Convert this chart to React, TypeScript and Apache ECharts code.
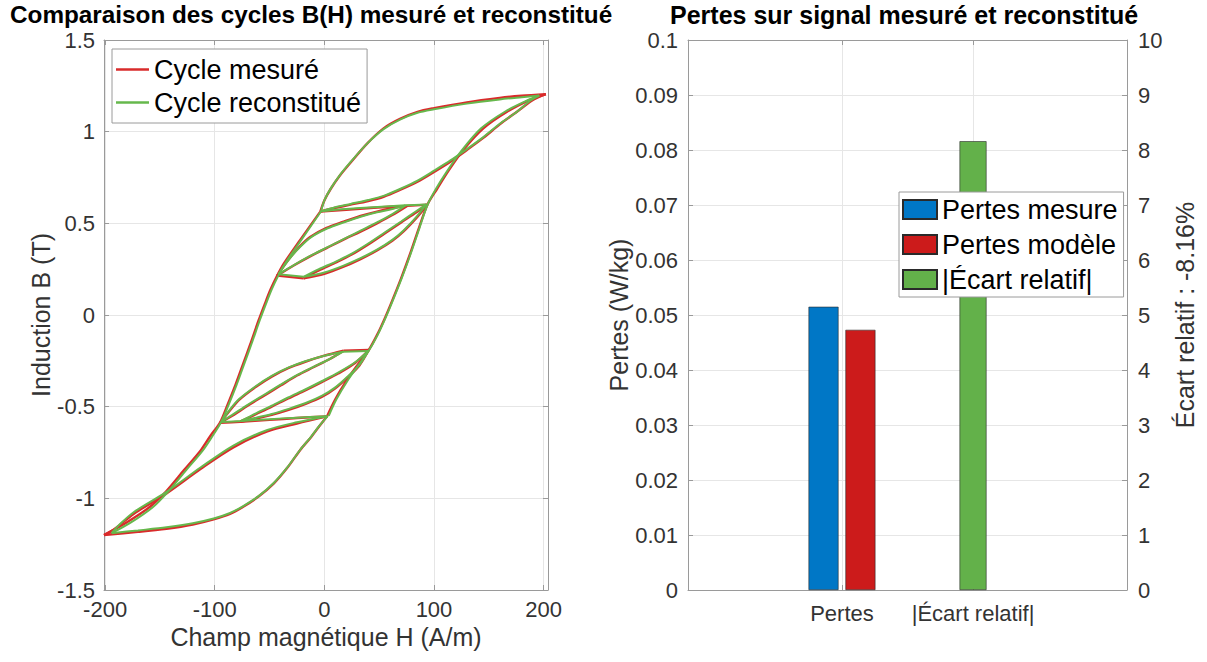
import React, { useEffect, useRef } from 'react';
import * as echarts from 'echarts';

const FONT = "'Liberation Sans', Arial, Helvetica, sans-serif";

type P = [number, number];

// ---------- Left chart: B(H) cycles, [H (A/m), B (T)] ----------
// Measured cycle (red)
const mesUpperBranch: P[] = [[202, 1.205], [180, 1.196], [160, 1.184], [130, 1.16], [100, 1.128], [85, 1.108], [69, 1.07], [54, 1.018], [39, 0.935], [24, 0.832], [14, 0.76], [6, 0.69], [0, 0.625], [-3.7, 0.564]];
const mesUpperReturn: P[] = [[-3.7, 0.564], [10, 0.585], [24, 0.602], [40, 0.622], [54, 0.645], [70, 0.685], [85, 0.727], [100, 0.78], [115, 0.836], [130, 0.9], [145, 0.966], [160, 1.04], [176, 1.11], [191, 1.175], [202, 1.205]];
const mesRisingBranch: P[] = [[2.4, -0.553], [10, -0.46], [20, -0.36], [30, -0.275], [40.5, -0.191], [48, -0.11], [55, -0.02], [62, 0.08], [70, 0.2], [78, 0.33], [86, 0.47], [94, 0.602], [103, 0.69], [113, 0.785], [126, 0.895], [145, 1.018], [167, 1.11], [188, 1.175], [202, 1.205]];
const mesFallingBranch: P[] = [[-3.7, 0.564], [-22, 0.41], [-37, 0.28], [-43, 0.215], [-49, 0.14], [-54, 0.065], [-60, -0.03], [-67, -0.15], [-74, -0.265], [-81, -0.38], [-89, -0.5], [-95, -0.585], [-104, -0.66], [-113, -0.74], [-128, -0.846], [-144, -0.96], [-159, -1.046], [-180, -1.13], [-201, -1.2]];
const mesLowerBranch: P[] = [[-201, -1.2], [-170, -1.183], [-144, -1.166], [-120, -1.143], [-101, -1.115], [-86, -1.085], [-74, -1.046], [-60, -0.99], [-46, -0.918], [-34, -0.835], [-22, -0.736], [-12, -0.665], [-5, -0.61], [2.4, -0.553]];
const mesLowerReturn: P[] = [[2.4, -0.553], [-25, -0.592], [-52, -0.635], [-83, -0.722], [-113, -0.84], [-144, -0.973], [-174, -1.085], [-192, -1.17], [-201, -1.2]];
const mesUpperChord: P[] = [[-3.7, 0.564], [20, 0.574], [45, 0.585], [75.5, 0.595], [94, 0.602]];
const mesLowerChord: P[] = [[-95, -0.588], [-76.7, -0.582], [-50, -0.572], [-25, -0.562], [2.4, -0.553]];
const mesLoopUpperLink: P[] = [[-43, 0.215], [-19, 0.2]];
const mesLoopUpperA: P[] = [[-43, 0.215], [-33, 0.3], [-23, 0.37], [-13, 0.425], [2, 0.475], [17.6, 0.509], [33, 0.54], [48, 0.564], [62, 0.582], [75.5, 0.595]];
const mesLoopUpperC: P[] = [[-43, 0.215], [-28, 0.27], [-13, 0.32], [2, 0.365], [17, 0.41], [33, 0.455], [48, 0.5], [62, 0.545], [75.5, 0.595]];
const mesLoopUpperD: P[] = [[-19, 0.2], [-5, 0.243], [10, 0.285], [25, 0.33], [40, 0.385], [55, 0.445], [70, 0.505], [84, 0.56], [94, 0.602]];
const mesLoopUpperB: P[] = [[-19, 0.2], [0, 0.225], [17, 0.262], [33, 0.305], [48, 0.352], [62, 0.405], [72, 0.455], [84, 0.53], [94, 0.602]];
const mesLoopLowerLink: P[] = [[17.6, -0.195], [40.5, -0.191]];
const mesLoopLowerA: P[] = [[-76.7, -0.582], [-62, -0.565], [-48, -0.545], [-32.6, -0.518], [-17, -0.485], [-2, -0.446], [10, -0.4], [22, -0.336], [32, -0.275], [40.5, -0.191]];
const mesLoopLowerC: P[] = [[-76.7, -0.582], [-62, -0.54], [-48, -0.5], [-33, -0.455], [-17, -0.41], [-2, -0.365], [13, -0.318], [28, -0.262], [40.5, -0.191]];
const mesLoopLowerD: P[] = [[-95, -0.588], [-84, -0.55], [-70, -0.495], [-55, -0.44], [-40, -0.385], [-25, -0.33], [-10, -0.285], [5, -0.24], [17.6, -0.195]];
const mesLoopLowerB: P[] = [[-95, -0.588], [-86, -0.52], [-78, -0.464], [-62, -0.39], [-48, -0.336], [-33, -0.29], [-17.4, -0.255], [0, -0.222], [17.6, -0.195]];

// Reconstructed cycle (green)
const recUpperBranch: P[] = [[196, 1.197], [180, 1.188], [160, 1.176], [130, 1.153], [100, 1.122], [85, 1.103], [69, 1.066], [54, 1.014], [39, 0.935], [24, 0.835], [14, 0.762], [6, 0.692], [0, 0.625], [-3, 0.566]];
const recUpperReturn: P[] = [[-3, 0.566], [10, 0.588], [24, 0.606], [40, 0.627], [54, 0.65], [70, 0.69], [85, 0.733], [100, 0.787], [115, 0.843], [130, 0.905], [145, 0.97], [160, 1.043], [176, 1.11], [188, 1.17], [196, 1.197]];
const recRisingBranch: P[] = [[4, -0.55], [11, -0.46], [21, -0.36], [31, -0.275], [41, -0.19], [48.5, -0.11], [55.5, -0.02], [62.5, 0.08], [70.5, 0.2], [78.5, 0.33], [86.5, 0.47], [94, 0.6], [102, 0.69], [112, 0.785], [125, 0.895], [143, 1.018], [165, 1.11], [185, 1.17], [196, 1.197]];
const recFallingBranch: P[] = [[-3, 0.566], [-21, 0.41], [-36, 0.28], [-42, 0.215], [-48, 0.14], [-53, 0.065], [-59, -0.03], [-66, -0.15], [-73, -0.265], [-80, -0.38], [-88, -0.5], [-94, -0.582], [-102, -0.66], [-111, -0.74], [-126, -0.846], [-142, -0.96], [-156, -1.046], [-176, -1.13], [-194, -1.19]];
const recLowerBranch: P[] = [[-194, -1.19], [-170, -1.175], [-144, -1.158], [-120, -1.136], [-101, -1.11], [-86, -1.08], [-74, -1.042], [-60, -0.988], [-46, -0.915], [-34, -0.833], [-22, -0.735], [-12, -0.663], [-5, -0.608], [3, -0.552]];
const recLowerReturn: P[] = [[3, -0.552], [-25, -0.585], [-52, -0.627], [-83, -0.712], [-113, -0.832], [-144, -0.965], [-174, -1.076], [-188, -1.15], [-194, -1.19]];
const recUpperChord: P[] = [[-3, 0.566], [20, 0.578], [45, 0.588], [74, 0.598], [93, 0.603]];
const recLowerChord: P[] = [[-94, -0.583], [-76, -0.578], [-50, -0.568], [-25, -0.56], [3, -0.552]];
const recLoopUpperLink: P[] = [[-42, 0.222], [-19, 0.208]];
const recLoopUpperA: P[] = [[-42, 0.222], [-32, 0.305], [-22, 0.372], [-12, 0.425], [3, 0.473], [18, 0.506], [33, 0.536], [48, 0.56], [62, 0.578], [74, 0.598]];
const recLoopUpperC: P[] = [[-42, 0.222], [-27, 0.275], [-12, 0.325], [3, 0.37], [18, 0.415], [33, 0.46], [48, 0.505], [62, 0.55], [74, 0.598]];
const recLoopUpperD: P[] = [[-19, 0.208], [-5, 0.25], [10, 0.29], [25, 0.335], [40, 0.39], [55, 0.45], [70, 0.51], [83, 0.563], [93, 0.603]];
const recLoopUpperB: P[] = [[-19, 0.208], [0, 0.232], [17, 0.268], [33, 0.31], [48, 0.356], [62, 0.41], [72, 0.46], [84, 0.535], [93, 0.603]];
const recLoopLowerLink: P[] = [[17, -0.2], [40, -0.196]];
const recLoopLowerA: P[] = [[-76, -0.578], [-62, -0.56], [-48, -0.54], [-32.6, -0.512], [-17, -0.48], [-2, -0.44], [10, -0.395], [22, -0.332], [32, -0.272], [40, -0.196]];
const recLoopLowerC: P[] = [[-76, -0.578], [-62, -0.535], [-48, -0.495], [-33, -0.45], [-17, -0.405], [-2, -0.36], [13, -0.313], [28, -0.258], [40, -0.196]];
const recLoopLowerD: P[] = [[-94, -0.583], [-84, -0.545], [-70, -0.49], [-55, -0.435], [-40, -0.38], [-25, -0.328], [-10, -0.283], [5, -0.24], [17, -0.2]];
const recLoopLowerB: P[] = [[-94, -0.583], [-86, -0.515], [-78, -0.46], [-62, -0.386], [-48, -0.332], [-33, -0.287], [-17.4, -0.252], [0, -0.222], [17, -0.2]];

const measuredSegments: P[][] = [mesUpperBranch, mesUpperReturn, mesRisingBranch, mesFallingBranch, mesLowerBranch, mesLowerReturn, mesUpperChord, mesLowerChord, mesLoopUpperLink, mesLoopUpperA, mesLoopUpperC, mesLoopUpperD, mesLoopUpperB, mesLoopLowerLink, mesLoopLowerA, mesLoopLowerC, mesLoopLowerD, mesLoopLowerB];
const rebuiltSegments: P[][] = [recUpperBranch, recUpperReturn, recRisingBranch, recFallingBranch, recLowerBranch, recLowerReturn, recUpperChord, recLowerChord, recLoopUpperLink, recLoopUpperA, recLoopUpperC, recLoopUpperD, recLoopUpperB, recLoopLowerLink, recLoopLowerA, recLoopLowerC, recLoopLowerD, recLoopLowerB];

const hTicks = [-200, -100, 0, 100, 200];

// ---------- Right chart: losses ----------
const barCategories = ['Pertes', '|Écart relatif|'];
const barPositions = [1, 2];
const pertesMesure = 0.0515;
const pertesModele = 0.0473;
const ecartRelatifAbs = 8.16;
const ecartRelatifSigned = -8.16;

const AXIS_COLOR = '#9a9a9a';
const LABEL_COLOR = '#333333';

export default function App() {
  const ref = useRef<HTMLDivElement>(null);

  useEffect(() => {
    const chart = echarts.init(ref.current!, null, { renderer: 'svg' });

    const axisLine = { show: true, onZero: false, lineStyle: { color: AXIS_COLOR, width: 1 } };
    const tick = (custom?: number[]) => ({
      show: true, inside: true, length: 5, lineStyle: { color: AXIS_COLOR, width: 1 },
      ...(custom ? { customValues: custom } : {}),
    });
    const label = (margin: number) => ({ color: LABEL_COLOR, fontSize: 22, fontFamily: FONT, margin });
    const split = { show: true, lineStyle: { color: '#e6e6e6', width: 1 } };
    const nameStyle = { color: LABEL_COLOR, fontSize: 25, fontFamily: FONT };

    const lineSeries = (segs: P[][], name: string, color: string, width: number, z: number) =>
      segs.map((seg) => ({
        type: 'line', name, data: seg, xAxisIndex: 0, yAxisIndex: 0,
        symbol: 'none', showSymbol: false, smooth: 0.3, z,
        lineStyle: { color, width }, itemStyle: { color },
      }));

    const option: any = {
      animation: false,
      backgroundColor: '#ffffff',
      title: [
        { text: 'Comparaison des cycles B(H) mesuré et reconstitué', left: 10, top: 2, padding: 0,
          textStyle: { fontFamily: FONT, fontSize: 24.3, fontWeight: 'bold', color: '#000' } },
        { text: 'Pertes sur signal mesuré et reconstitué', left: 670, top: 2, padding: 0,
          textStyle: { fontFamily: FONT, fontSize: 25, fontWeight: 'bold', color: '#000' } },
      ],
      legend: [
        {
          data: ['Cycle mesuré', 'Cycle reconstitué'], orient: 'vertical', left: 112, top: 49, z: 10,
          padding: [7, 6, 7, 4], itemGap: 6, itemWidth: 33, itemHeight: 2.5, icon: 'rect',
          backgroundColor: '#fff', borderColor: AXIS_COLOR, borderWidth: 1,
          textStyle: { fontFamily: FONT, fontSize: 27, color: '#000' },
        },
        {
          data: ['Pertes mesure', 'Pertes modèle', '|Écart relatif|'], orient: 'vertical', left: 899, top: 192, z: 10,
          padding: [4, 6, 4, 3], itemGap: 8, itemWidth: 34, itemHeight: 19, icon: 'rect',
          backgroundColor: '#fff', borderColor: AXIS_COLOR, borderWidth: 1,
          textStyle: { fontFamily: FONT, fontSize: 27, color: '#000' },
        },
      ],
      grid: [
        { left: 104, right: 659, top: 40, bottom: 72 },
        { left: 688, right: 80, top: 40, bottom: 72 },
      ],
      xAxis: [
        { gridIndex: 0, type: 'value', min: -201, max: 204, position: 'bottom', axisLine, axisTick: tick(hTicks),
          axisLabel: { ...label(8), customValues: hTicks }, splitLine: split,
          name: 'Champ magnétique H (A/m)', nameLocation: 'middle', nameGap: 34, nameTextStyle: nameStyle },
        { gridIndex: 0, type: 'value', min: -201, max: 204, position: 'top', axisLine, axisTick: tick(hTicks),
          axisLabel: { show: false }, splitLine: { show: false } },
        { gridIndex: 1, type: 'value', min: -0.175, max: 3.175, position: 'bottom', axisLine, axisTick: tick(barPositions),
          axisLabel: { ...label(12), customValues: barPositions,
            formatter: (v: number) => barCategories[barPositions.indexOf(Math.round(v))] ?? '' },
          splitLine: split },
        { gridIndex: 1, type: 'value', min: -0.175, max: 3.175, position: 'top', axisLine, axisTick: tick(barPositions),
          axisLabel: { show: false }, splitLine: { show: false } },
        { gridIndex: 1, type: 'value', min: -0.175, max: 3.175, position: 'bottom', show: false },
      ],
      yAxis: [
        { gridIndex: 0, type: 'value', min: -1.5, max: 1.5, interval: 0.5, position: 'left', axisLine, axisTick: tick(),
          axisLabel: label(9), splitLine: split,
          name: 'Induction B (T)', nameLocation: 'middle', nameRotate: 90, nameGap: 51, nameTextStyle: nameStyle },
        { gridIndex: 0, type: 'value', min: -1.5, max: 1.5, interval: 0.5, position: 'right', axisLine, axisTick: tick(),
          axisLabel: { show: false }, splitLine: { show: false } },
        { gridIndex: 1, type: 'value', min: 0, max: 0.1, interval: 0.01, position: 'left', axisLine, axisTick: tick(),
          axisLabel: label(10), splitLine: split,
          name: 'Pertes (W/kg)', nameLocation: 'middle', nameRotate: 90, nameGap: 56, nameTextStyle: nameStyle },
        { gridIndex: 1, type: 'value', min: 0, max: 10, interval: 1, position: 'right', axisLine, axisTick: tick(),
          axisLabel: label(11), splitLine: { show: false },
          name: `Écart relatif : ${ecartRelatifSigned.toFixed(2)}%`, nameLocation: 'middle', nameRotate: 90, nameGap: 45,
          nameTextStyle: nameStyle },
      ],
      series: [
        ...lineSeries(measuredSegments, 'Cycle mesuré', '#d92b2b', 2.4, 2),
        ...lineSeries(rebuiltSegments, 'Cycle reconstitué', '#66b84c', 2, 3),
        { type: 'bar', name: 'Pertes mesure', xAxisIndex: 2, yAxisIndex: 2, data: [[barPositions[0], pertesMesure]],
          barWidth: 30, barGap: '23%', z: 2, itemStyle: { color: '#0077c6', borderColor: '#2a2a2a', borderWidth: 0.6 } },
        { type: 'bar', name: 'Pertes modèle', xAxisIndex: 2, yAxisIndex: 2, data: [[barPositions[0], pertesModele]],
          barWidth: 30, barGap: '23%', z: 2, itemStyle: { color: '#cc1b1b', borderColor: '#2a2a2a', borderWidth: 0.6 } },
        { type: 'bar', name: '|Écart relatif|', xAxisIndex: 4, yAxisIndex: 3, data: [[barPositions[1], ecartRelatifAbs]],
          barWidth: 27, z: 2, itemStyle: { color: '#63b14a', borderColor: '#2a2a2a', borderWidth: 0.6 } },
      ],
    };

    chart.setOption(option);
    return () => chart.dispose();
  }, []);

  return (
    <div
      ref={ref}
      style={{ position: 'fixed', left: 0, top: 0, width: 1207, height: 662, background: '#fff' }}
    />
  );
}
